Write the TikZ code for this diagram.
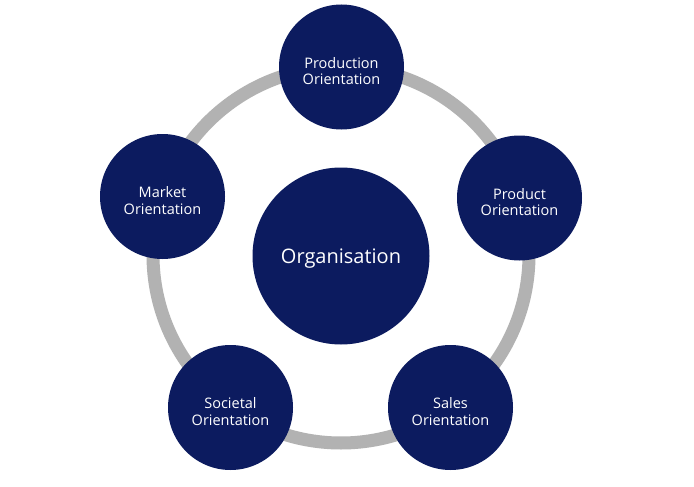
\documentclass[tikz,border=0pt]{standalone}
\usepackage{fontspec}
\setmainfont{Open Sans}
\definecolor{navy}{RGB}{12,27,95}
\definecolor{ringgray}{RGB}{178,178,178}
\begin{document}
\begin{tikzpicture}[x=1pt,y=-1pt,
  outer/.style={circle,fill=navy,minimum size=125pt,inner sep=0pt},
  core/.style={circle,fill=navy,minimum size=177pt,inner sep=0pt},
  smalltxt/.style={text=white,align=center,inner sep=0pt,font=\fontsize{14.5}{16.5}\selectfont},
  bigtxt/.style={text=white,inner sep=0pt,font=\fontsize{20}{23}\selectfont}]
\useasboundingbox[fill=white] (0,0) rectangle (694,487);
\coordinate (c) at (341,255);
\draw[ringgray,line width=13pt] (c) circle[radius=188];
\node[core] (org) at (341,256) {};
\node[outer] (prod) at (341.5,67) {};
\node[outer] (prodt) at (519.5,198) {};
\node[outer] (sales) at (450.5,407.5) {};
\node[outer] (soc) at (230.5,407.5) {};
\node[outer] (mkt) at (162.5,196.5) {};
\node[bigtxt] (orgt) at ([yshift=-3pt]org.center) {Organisation};
\node[smalltxt] (prodtx) at ([yshift=-4pt]prod.center) {Production\\Orientation};
\node[smalltxt] (prodttx) at ([yshift=-4pt]prodt.center) {Product\\Orientation};
\node[smalltxt] (salestx) at ([yshift=-4pt]sales.center) {Sales\\Orientation};
\node[smalltxt] (soctx) at ([yshift=-4pt]soc.center) {Societal\\Orientation};
\node[smalltxt] (mkttx) at ([yshift=-4pt]mkt.center) {Market\\Orientation};
\end{tikzpicture}
\end{document}
